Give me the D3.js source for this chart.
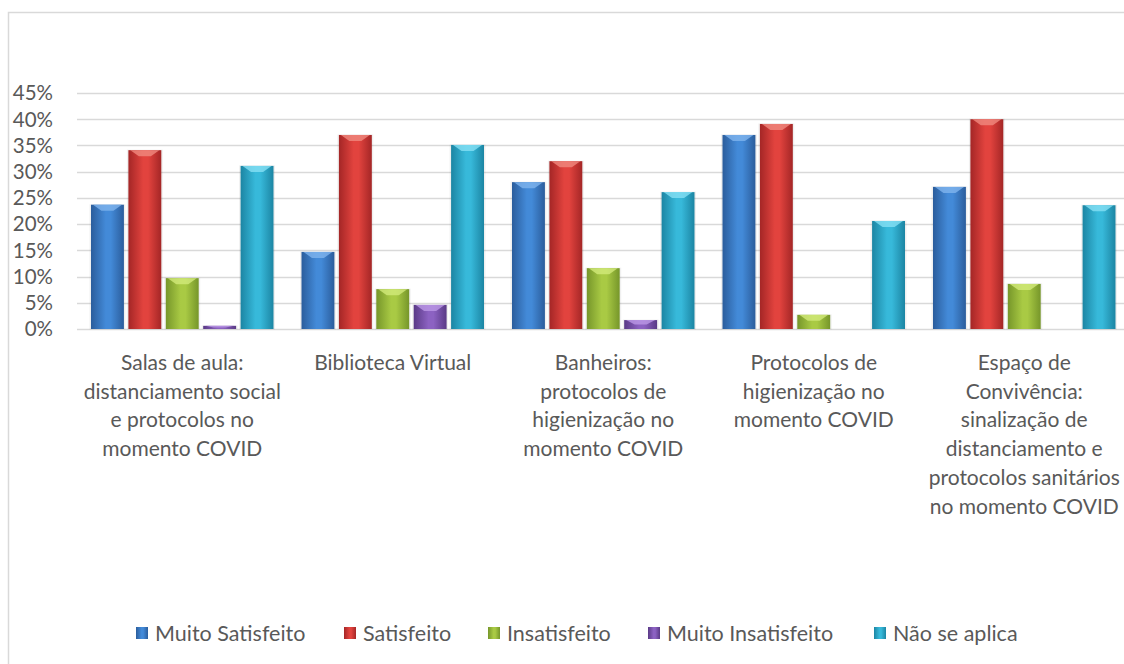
<!DOCTYPE html>
<html>
<head>
<meta charset="utf-8">
<script src="https://cdn.jsdelivr.net/npm/d3@7"></script>
<style>
  body { margin: 0; background: #fff; }
  svg { display: block; }
</style>
</head>
<body>
<div class="chart-wrapper"></div>
<script>
// category labels, with the line breaks used in the chart
const categories = [
  "Salas de aula:|distanciamento social|e protocolos no|momento COVID",
  "Biblioteca Virtual",
  "Banheiros:|protocolos de|higienização no|momento COVID",
  "Protocolos de|higienização no|momento COVID",
  "Espaço de|Convivência:|sinalização de|distanciamento e|protocolos sanitários|no momento COVID"
]
const series = ["Muito Satisfeito", "Satisfeito", "Insatisfeito", "Muito Insatisfeito", "Não se aplica"]

const muitoSatisfeito = [0.237, 0.147, 0.28, 0.37, 0.271]
const satisfeito = [0.341, 0.37, 0.32, 0.391, 0.40]
const insatisfeito = [0.097, 0.076, 0.116, 0.027, 0.086]
const muitoInsatisfeito = [0.006, 0.046, 0.017, 0, 0]
const naoSeAplica = [0.311, 0.351, 0.261, 0.206, 0.236]

const yTicks = [0, 0.05, 0.1, 0.15, 0.2, 0.25, 0.3, 0.35, 0.4, 0.45]

const values = [muitoSatisfeito, satisfeito, insatisfeito, muitoInsatisfeito, naoSeAplica]

// edge / center colours for the bevelled bars
const colors = [
  { edge: "#2b5d9c", mid: "#438ad8", top: "#7fb4ee" },
  { edge: "#a42626", mid: "#e2433e", top: "#f08a80" },
  { edge: "#76962a", mid: "#a9ca44", top: "#d2ea7a" },
  { edge: "#5a3a86", mid: "#8c62c2", top: "#bb98e6" },
  { edge: "#1c85a3", mid: "#37b9da", top: "#86e0f4" }
]

const width = 1124
const height = 664
const font = "Lato, 'Open Sans', sans-serif"
const textColor = "#595959"

const svg = d3.select(".chart-wrapper").append("svg")
  .attr("width", width)
  .attr("height", height)
  .attr("font-family", font)

const defs = svg.append("defs")
colors.forEach((c, i) => {
  const g = defs.append("linearGradient").attr("id", "grad" + i)
    .attr("x1", 0).attr("x2", 1).attr("y1", 0).attr("y2", 0)
  g.append("stop").attr("offset", "0%").attr("stop-color", c.edge)
  g.append("stop").attr("offset", "45%").attr("stop-color", c.mid)
  g.append("stop").attr("offset", "60%").attr("stop-color", c.mid)
  g.append("stop").attr("offset", "100%").attr("stop-color", c.edge)
})

// chart border
svg.append("rect")
  .attr("x", 8.5).attr("y", 12.5)
  .attr("width", 1130).attr("height", 700)
  .attr("fill", "none")
  .attr("stroke", "#d9d9d9")
  .attr("stroke-width", 1.5)

const x0 = d3.scaleBand()
  .domain(categories)
  .range([77, 1129.5])

const x1 = d3.scaleBand()
  .domain(series)
  .range([14, 196.5])
  .paddingInner(0.12)

const y = d3.scaleLinear()
  .domain([0, 0.45])
  .range([329, 93])

// gridlines
svg.append("g")
  .selectAll("line")
  .data(yTicks)
  .join("line")
  .attr("x1", 77).attr("x2", width)
  .attr("y1", d => Math.round(y(d)) + 0.5)
  .attr("y2", d => Math.round(y(d)) + 0.5)
  .attr("stroke", "#d9d9d9")
  .attr("stroke-width", 1.5)

// y axis labels
svg.append("g")
  .selectAll("text")
  .data(yTicks)
  .join("text")
  .attr("x", 53)
  .attr("y", d => y(d))
  .attr("dy", "0.36em")
  .attr("text-anchor", "end")
  .attr("font-size", 20.5)
  .attr("fill", textColor)
  .text(d3.format(".0%"))

// bars
const group = svg.append("g")
  .selectAll("g")
  .data(categories)
  .join("g")
  .attr("transform", d => `translate(${x0(d)},0)`)

group.selectAll("g.bar")
  .data((d, ci) => series.map((s, si) => ({ s, si, v: values[si][ci] })))
  .join("g")
  .attr("class", "bar")
  .each(function (d) {
    if (d.v <= 0) return
    const g = d3.select(this)
    const bx = x1(d.s)
    const bw = x1.bandwidth()
    const by = y(d.v)
    const bh = y(0) - by
    // soft shadow
    g.append("rect")
      .attr("x", bx - 1.5).attr("y", by - 0.5)
      .attr("width", bw + 3).attr("height", bh + 1)
      .attr("fill", "#000").attr("opacity", 0.06)
    g.append("rect")
      .attr("x", bx).attr("y", by)
      .attr("width", bw).attr("height", bh)
      .attr("fill", `url(#grad${d.si})`)
    // bevel highlight on top
    const th = Math.min(6, bh / 2)
    g.append("path")
      .attr("d", `M${bx + 2},${by} L${bx + bw - 2},${by} L${bx + bw / 2 + 6},${by + th} L${bx + bw / 2 - 6},${by + th} Z`)
      .attr("fill", colors[d.si].top)
      .attr("opacity", 0.8)
  })

// category labels
const labels = svg.append("g")
  .selectAll("text")
  .data(categories)
  .join("text")
  .attr("x", d => x0(d) + x0.bandwidth() / 2)
  .attr("y", 370)
  .attr("text-anchor", "middle")
  .attr("font-size", 21)
  .attr("fill", textColor)

labels.selectAll("tspan")
  .data(d => d.split("|"))
  .join("tspan")
  .attr("x", function () { return this.parentNode.getAttribute("x") })
  .attr("dy", (d, i) => i ? 28.7 : 0)
  .text(d => d)

// legend
const legendX = [136, 344, 488, 648, 874]
const legend = svg.append("g")
  .selectAll("g")
  .data(series)
  .join("g")
  .attr("transform", (d, i) => `translate(${legendX[i]},633)`)

legend.append("rect")
  .attr("x", 0).attr("y", -6)
  .attr("width", 12).attr("height", 12)
  .attr("fill", (d, i) => `url(#grad${i})`)

legend.append("text")
  .attr("x", 19)
  .attr("y", 0)
  .attr("dy", "0.36em")
  .attr("font-size", 21.5)
  .attr("fill", textColor)
  .text(d => d)
</script>
</body>
</html>
